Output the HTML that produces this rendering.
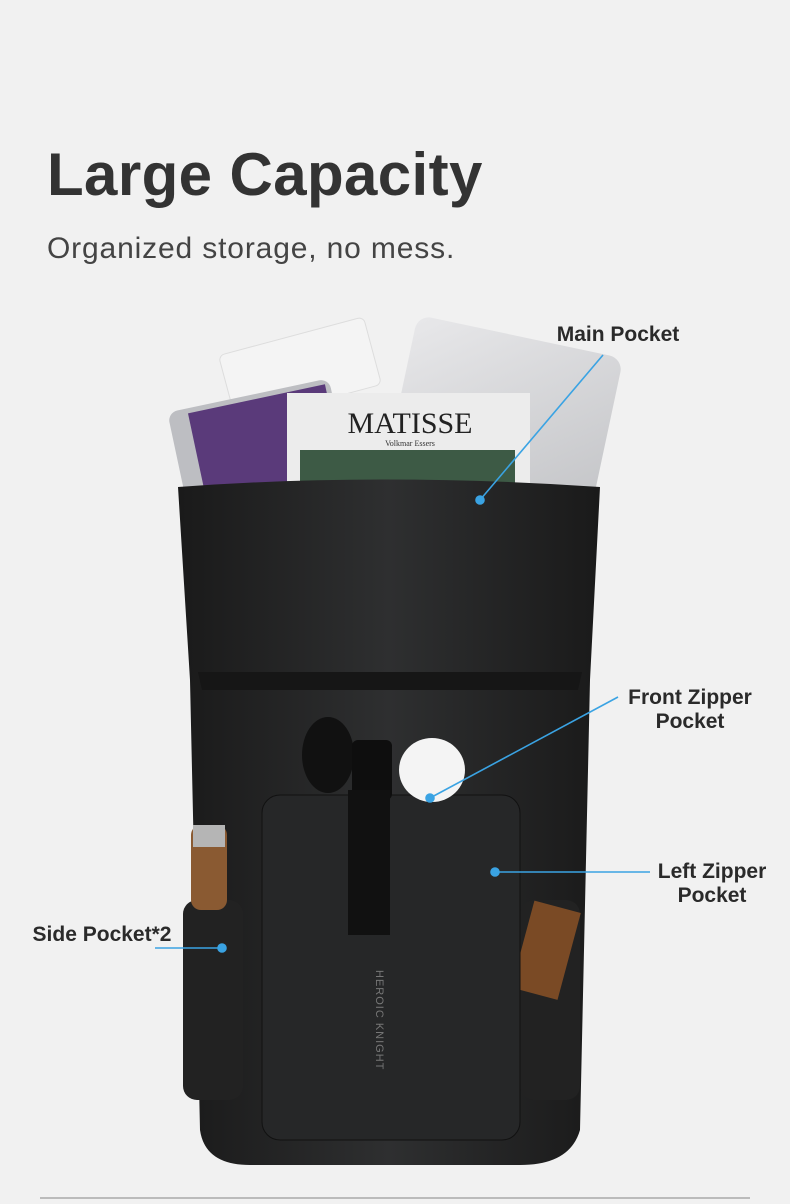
<!DOCTYPE html>
<html><head><meta charset="utf-8"><style>
html,body{margin:0;padding:0;}
body{width:790px;height:1204px;background:#f1f1f1;position:relative;overflow:hidden;font-family:"Liberation Sans","DejaVu Sans",sans-serif;}
.t{position:absolute;left:47px;top:140px;font-size:60px;font-weight:bold;color:#333;letter-spacing:0.4px;}
.s{position:absolute;left:47px;top:232px;font-size:30px;color:#444;letter-spacing:0.85px;}
.l{position:absolute;font-size:21px;font-weight:bold;color:#2a2a2a;text-align:center;line-height:24px;}
</style></head><body>
<div class="t">Large Capacity</div>
<div class="s">Organized storage, no mess.</div>
<svg width="790" height="1204" style="position:absolute;left:0;top:0">
<defs>
<linearGradient id="bag" x1="0" x2="1"><stop offset="0" stop-color="#1a1a1a"/><stop offset="0.5" stop-color="#2e2f30"/><stop offset="1" stop-color="#1a1a1a"/></linearGradient>
<linearGradient id="lap" x1="0" x2="1" y1="0" y2="1"><stop offset="0" stop-color="#e8e8ea"/><stop offset="1" stop-color="#c4c5c8"/></linearGradient>
</defs>
<g transform="rotate(12 505 410)"><rect x="400" y="335" width="210" height="150" rx="14" fill="url(#lap)"/></g>
<g transform="rotate(-15 300 370)"><rect x="225" y="335" width="150" height="70" rx="6" fill="#f4f4f4" stroke="#ddd"/></g>
<g transform="rotate(-12 255 440)"><rect x="175" y="395" width="165" height="100" rx="10" fill="#bdbec2"/><rect x="195" y="400" width="140" height="90" fill="#5a3a7a"/></g>
<rect x="287" y="393" width="243" height="90" fill="#ececec"/>
<text x="410" y="433" font-family="Liberation Serif,serif" font-size="30" text-anchor="middle" fill="#222">MATISSE</text>
<text x="410" y="446" font-family="Liberation Serif,serif" font-size="8" text-anchor="middle" fill="#333">Volkmar Essers</text>
<rect x="300" y="450" width="215" height="33" fill="#3d5a45"/>
<path d="M178 487 Q380 472 600 487 L590 680 L580 1130 Q570 1165 520 1165 L250 1165 Q205 1165 200 1130 L190 680 Z" fill="url(#bag)"/>
<path d="M198 672 L582 672 L578 690 L202 690 Z" fill="#161616"/>
<rect x="183" y="900" width="60" height="200" rx="14" fill="#222"/>
<rect x="520" y="900" width="60" height="200" rx="14" fill="#222"/>
<rect x="191" y="825" width="36" height="85" rx="10" fill="#8a5a32"/>
<rect x="193" y="825" width="32" height="22" fill="#b5b5b5"/>
<g transform="rotate(15 545 950)"><rect x="522" y="905" width="48" height="90" fill="#7a4a25"/></g>
<rect x="262" y="795" width="258" height="345" rx="18" fill="#262728" stroke="#111"/>
<ellipse cx="328" cy="755" rx="26" ry="38" fill="#111"/>
<rect x="352" y="740" width="40" height="60" rx="6" fill="#0e0e0e"/>
<ellipse cx="432" cy="770" rx="33" ry="32" fill="#f4f4f4"/>
<rect x="348" y="790" width="42" height="145" fill="#111"/>
<text x="376" y="970" font-size="11" fill="#777" transform="rotate(90 376 970)" letter-spacing="1">HEROIC KNIGHT</text>
<g stroke="#3aa3e3" stroke-width="1.6" fill="#3aa3e3">
<line x1="603" y1="355" x2="480" y2="500"/><circle cx="480" cy="500" r="4"/>
<line x1="618" y1="697" x2="430" y2="798"/><circle cx="430" cy="798" r="4"/>
<line x1="650" y1="872" x2="495" y2="872"/><circle cx="495" cy="872" r="4"/>
<line x1="155" y1="948" x2="222" y2="948"/><circle cx="222" cy="948" r="4"/>
</g>
<line x1="40" y1="1198" x2="750" y2="1198" stroke="#bbb" stroke-width="2"/>
</svg>
<div class="l" style="left:548px;top:323px;width:140px;">Main Pocket</div>
<div class="l" style="left:615px;top:686px;width:150px;">Front Zipper<br>Pocket</div>
<div class="l" style="left:648px;top:860px;width:128px;">Left Zipper<br>Pocket</div>
<div class="l" style="left:22px;top:923px;width:160px;">Side Pocket*2</div>
</body></html>
